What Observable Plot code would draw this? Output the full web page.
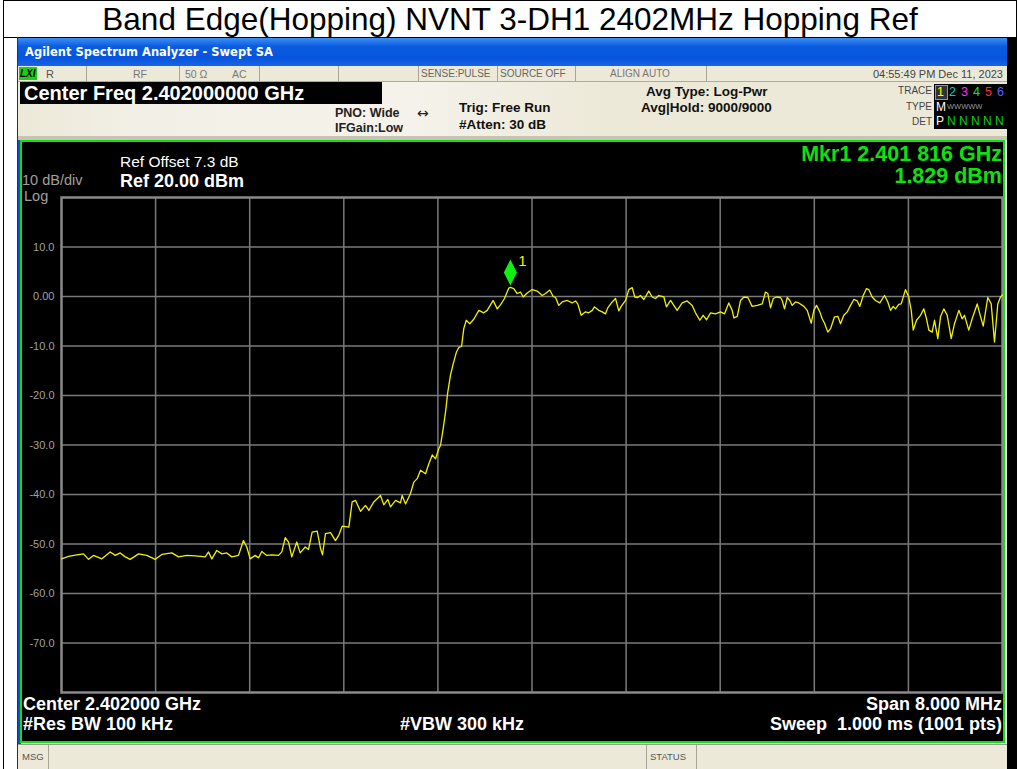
<!DOCTYPE html>
<html>
<head>
<meta charset="utf-8">
<script src="https://cdn.jsdelivr.net/npm/d3@7"></script>
<script src="https://cdn.jsdelivr.net/npm/@observablehq/plot@0.6"></script>
<style>
  html, body { margin: 0; padding: 0; background: #fff; }
  body { width: 1020px; height: 769px; position: relative; overflow: hidden; font-family: "Liberation Sans", Arial, sans-serif; }
</style>
</head>
<body>
<script>
// ---- data ----
const chartTitle = "Band Edge(Hopping) NVNT 3-DH1 2402MHz Hopping Ref";
const freqMHz = [
  2398.000,2398.060,2398.130,2398.187,2398.230,2398.272,2398.343,2398.414,2398.457,2398.499,
  2398.542,2398.584,2398.655,2398.725,2398.797,2398.853,2398.938,2398.995,2399.065,2399.137,
  2399.222,2399.250,2399.278,2399.320,2399.363,2399.405,2399.448,2399.505,2399.547,2399.575,
  2399.604,2399.647,2399.675,2399.703,2399.745,2399.788,2399.845,2399.873,2399.902,2399.930,
  2399.958,2400.000,2400.029,2400.072,2400.100,2400.131,2400.174,2400.202,2400.219,2400.244,
  2400.287,2400.329,2400.358,2400.386,2400.443,2400.471,2400.500,2400.542,2400.584,2400.613,
  2400.655,2400.712,2400.740,2400.774,2400.797,2400.840,2400.882,2400.896,2400.925,2400.967,
  2400.995,2401.024,2401.052,2401.095,2401.123,2401.152,2401.180,2401.208,2401.222,2401.245,
  2401.265,2401.284,2401.307,2401.330,2401.358,2401.378,2401.401,2401.420,2401.441,2401.471,
  2401.505,2401.548,2401.590,2401.619,2401.670,2401.704,2401.732,2401.766,2401.803,2401.816,
  2401.845,2401.874,2401.902,2401.925,2401.959,2402.002,2402.044,2402.087,2402.115,2402.151,
  2402.180,2402.200,2402.228,2402.257,2402.299,2402.342,2402.370,2402.389,2402.418,2402.455,
  2402.483,2402.512,2402.531,2402.568,2402.597,2402.625,2402.644,2402.682,2402.710,2402.738,
  2402.758,2402.795,2402.823,2402.852,2402.874,2402.900,2402.922,2402.951,2402.993,2403.022,
  2403.050,2403.078,2403.121,2403.143,2403.178,2403.206,2403.234,2403.277,2403.319,2403.362,
  2403.390,2403.427,2403.455,2403.484,2403.518,2403.560,2403.603,2403.637,2403.673,2403.702,
  2403.716,2403.745,2403.773,2403.801,2403.835,2403.872,2403.915,2403.957,2403.985,2404.005,
  2404.028,2404.051,2404.079,2404.113,2404.127,2404.147,2404.170,2404.192,2404.212,2404.240,
  2404.268,2404.311,2404.340,2404.374,2404.396,2404.419,2404.447,2404.467,2404.487,2404.515,
  2404.538,2404.572,2404.600,2404.623,2404.651,2404.680,2404.708,2404.736,2404.765,2404.787,
  2404.816,2404.844,2404.863,2404.892,2404.920,2404.957,2404.997,2405.025,2405.048,2405.071,
  2405.090,2405.118,2405.139,2405.175,2405.203,2405.224,2405.241,2405.269,2405.303,2405.331,
  2405.354,2405.374,2405.402,2405.422,2405.450,2405.473,2405.501,2405.530,2405.564,2405.592,
  2405.629,2405.657,2405.677,2405.713,2405.742,2405.785,2405.807,2405.836,2405.875,2405.904,
  2405.932,2405.960,2405.983,2406.000
];
const levelDbm = [
  -53.0,-52.5,-52.2,-52.0,-53.1,-52.3,-53.0,-51.6,-52.3,-51.8,
  -52.6,-53.1,-52.0,-52.3,-53.1,-52.1,-51.8,-52.6,-52.3,-52.4,
  -52.6,-51.6,-53.0,-51.3,-52.0,-51.8,-52.6,-52.3,-49.3,-50.6,
  -53.0,-52.3,-52.8,-51.5,-52.3,-52.2,-52.3,-51.6,-48.7,-49.6,
  -52.6,-49.6,-51.8,-50.6,-51.1,-47.6,-47.4,-50.9,-52.2,-47.9,
  -47.7,-49.3,-48.2,-46.4,-46.6,-41.5,-41.2,-43.4,-42.2,-43.2,
  -41.5,-40.2,-42.1,-41.0,-42.5,-41.2,-41.7,-40.2,-41.9,-39.8,
  -37.5,-36.8,-35.1,-35.8,-33.8,-32.0,-32.8,-30.7,-30.1,-26.7,
  -23.3,-19.3,-15.9,-13.6,-11.2,-10.3,-10.1,-6.5,-4.8,-5.5,
  -4.6,-2.8,-3.3,-2.8,-0.8,-2.5,-1.7,-0.4,1.7,1.829,
  1.6,0.6,0.9,-0.1,0.7,1.4,1.1,0.2,0.6,1.3,
  0.0,-0.2,-1.8,-1.1,-0.8,-1.3,-0.9,-1.5,-3.8,-3.1,
  -3.3,-2.8,-2.1,-2.8,-3.1,-3.5,-2.3,-1.1,-0.4,-2.9,
  -2.0,-0.8,1.4,1.8,-0.1,-0.2,0.2,-0.6,1.1,-0.1,
  -0.4,0.2,-0.1,-2.1,-0.8,-1.8,-2.8,-1.3,-0.9,-1.8,
  -3.3,-4.8,-3.8,-4.7,-3.3,-3.5,-3.1,-3.5,-1.3,-2.8,
  -4.3,-4.0,-0.8,-0.1,-0.2,-2.0,-1.8,-1.5,0.9,0.6,
  -2.3,-0.4,-0.1,-0.2,-0.8,-2.5,-0.2,-0.8,-1.8,-1.1,
  -1.3,-2.0,-2.8,-5.4,-2.8,-1.8,-3.1,-4.5,-5.4,-7.2,
  -6.5,-4.1,-4.0,-5.5,-3.8,-3.1,-1.8,-0.6,-0.9,-2.0,
  0.2,1.6,1.4,-0.1,-0.8,-1.3,0.2,-1.1,-2.8,-2.0,
  -2.5,-1.6,-1.5,1.4,-0.1,-2.8,-6.8,-4.8,-3.8,-2.5,
  -4.5,-6.8,-7.2,-4.8,-8.5,-4.1,-2.5,-3.8,-8.5,-5.5,
  -2.8,-4.5,-3.8,-6.8,-4.5,-1.5,-3.5,-6.0,-0.2,-1.5,
  -9.2,-1.5,-0.1,0.3
];
const xDomainMHz = [2398, 2406];
const yDomainDbm = [-80, 20];
const xGridMHz = [2398.8, 2399.6, 2400.4, 2401.2, 2402.0, 2402.8, 2403.6, 2404.4, 2405.2];
const yGridDbm = [10, 0, -10, -20, -30, -40, -50, -60, -70];
const yTickLabels = ["10.0", "0.00", "-10.0", "-20.0", "-30.0", "-40.0", "-50.0", "-60.0", "-70.0"];
const markerFreqMHz = [2401.816];
const markerLevelDbm = [1.829];
const markerNames = ["1"];

// ---- page furniture ----
function el(tag, css, text, parent) {
  const e = document.createElement(tag);
  e.style.cssText = css;
  if (text != null) e.textContent = text;
  (parent || document.body).appendChild(e);
  return e;
}
function txt(text, left, cy, size, opts = {}) {
  const lh = opts.lh || size;
  const e = el("div", `position:absolute;white-space:pre;line-height:${lh}px;height:${lh}px;font-size:${size}px;top:${cy - lh / 2}px;` +
    (opts.right != null ? `right:${1020 - opts.right}px;` : `left:${left}px;`) +
    `color:${opts.color || "#000"};font-weight:${opts.bold ? "bold" : "normal"};font-family:${opts.font || '"Liberation Sans", Arial, sans-serif'};`, text);
  return e;
}

// outer table
el("div", "position:absolute;left:3px;top:0;width:1014px;height:769px;border:1px solid #000;border-bottom:none;box-sizing:border-box;");
el("div", "position:absolute;left:3px;top:37px;width:1014px;height:1px;background:#000;");
el("div", `position:absolute;left:3px;top:0;width:1014px;height:37px;line-height:38px;text-align:center;font-size:31.5px;font-family:"Liberation Sans",Arial,sans-serif;color:#000;`, chartTitle);
el("div", "position:absolute;left:17px;top:37px;width:1px;height:732px;background:#333;");

// screenshot window
el("div", "position:absolute;left:1007px;top:38px;width:10px;height:731px;background:#000;");
el("div", "position:absolute;left:18px;top:38px;width:989px;height:28px;background:linear-gradient(#3d8ef5 0%,#0b5ce0 30%,#0654dc 70%,#1864e6 100%);");
txt("Agilent Spectrum Analyzer - Swept SA", 25, 53, 11.5, { bold: true, color: "#fff", font: '"DejaVu Sans", sans-serif' });
// status row
el("div", "position:absolute;left:18px;top:66px;width:989px;height:15px;background:#ece9d8;border-bottom:1px solid #b0aa98;");
[86, 179, 259, 338, 418, 497, 575, 706].forEach(x => el("div", `position:absolute;left:${x}px;top:66px;width:1px;height:15px;background:#a8a498;`));
el("div", "position:absolute;left:19px;top:67px;width:18px;height:13px;background:#18d018;");
txt("LXI", 20, 74, 10, { bold: true, color: "#000", font: '"Liberation Sans", sans-serif' }).style.fontStyle = "italic";
txt("R", 46, 74, 11, { color: "#555" });
txt("RF", 133, 74, 10.5, { color: "#777" });
txt("50 Ω", 185, 74, 10.5, { color: "#777" });
txt("AC", 232, 74, 10.5, { color: "#777" });
txt("SENSE:PULSE", 421, 74, 10, { color: "#666" });
txt("SOURCE OFF", 500, 74, 10, { color: "#666" });
txt("ALIGN AUTO", 610, 74, 10, { color: "#777" });
txt("04:55:49 PM Dec 11, 2023", 0, 74, 11, { color: "#444", right: 1003 });
// control area
el("div", "position:absolute;left:18px;top:82px;width:989px;height:56px;background:linear-gradient(90deg,#ece9d8 0%,#f2f0e6 12%,#f4f2ea 40%,#ece9d8 60%);");
el("div", "position:absolute;left:18px;top:136px;width:989px;height:4px;background:#c8c4b4;");
el("div", "position:absolute;left:20px;top:82px;width:362px;height:22px;background:#000;");
txt("Center Freq 2.402000000 GHz", 24, 93, 20, { bold: true, color: "#fff" });
txt("PNO: Wide", 335, 113, 12.5, { bold: true, color: "#222" });
txt("IFGain:Low", 335, 128, 12.5, { bold: true, color: "#222" });
txt("↔", 417, 113, 14, { color: "#222", font: '"DejaVu Sans", sans-serif' });
txt("Trig: Free Run", 459, 108, 13.5, { bold: true, color: "#111" });
txt("#Atten: 30 dB", 459, 125, 13.5, { bold: true, color: "#111" });
txt("Avg Type: Log-Pwr", 646, 92, 13.5, { bold: true, color: "#111" });
txt("Avg|Hold: 9000/9000", 641, 108, 13.5, { bold: true, color: "#111" });
txt("TRACE", 0, 91, 10, { color: "#444", right: 932 });
txt("TYPE", 0, 107, 10, { color: "#444", right: 932 });
txt("DET", 0, 122, 10, { color: "#444", right: 932 });
el("div", "position:absolute;left:934px;top:84px;width:73px;height:45px;background:#000;");
el("div", "position:absolute;left:935px;top:85px;width:11px;height:13px;border:1px solid #9a9a60;background:#333;");
const traceNums = ["1", "2", "3", "4", "5", "6"];
const traceCols = ["#ffff00", "#00d0d0", "#ff30ff", "#20e020", "#ff3030", "#6060ff"];
traceNums.forEach((n, i) => txt(n, 937 + i * 12, 92, 12.5, { color: traceCols[i] }));
txt("M", 936, 107, 12, { color: "#fff" });
txt("WWWWW", 947, 107, 7.5, { color: "#999" });
txt("P", 936, 121, 12, { color: "#fff" });
txt("N N N N N", 947, 121, 12, { color: "#10d010" });

// black screen with green border
el("div", "position:absolute;left:18px;top:140px;width:3px;height:605px;background:#1848d0;");
el("div", "position:absolute;left:20px;top:140px;width:985px;height:603px;background:#000;border:2px solid #10e010;box-sizing:border-box;");
// message bar
el("div", "position:absolute;left:18px;top:744px;width:989px;height:25px;background:#ece9d8;border-top:1px solid #999;");
[48, 646, 696].forEach(x => el("div", `position:absolute;left:${x}px;top:745px;width:1px;height:24px;background:#a8a498;`));
txt("MSG", 22, 757, 9.5, { color: "#555" });
txt("STATUS", 650, 757, 9.5, { color: "#555" });

// ---- the chart ----
const trace = freqMHz.map((f, i) => ({ f, p: levelDbm[i] }));
const marker = markerFreqMHz.map((f, i) => ({ f, p: markerLevelDbm[i], name: markerNames[i] }));
const labelOf = new Map(yGridDbm.map((v, i) => [v, yTickLabels[i]]));
const tallDiamond = {
  draw(ctx) {
    const w = 6.5, h = 13;
    ctx.moveTo(0, -h); ctx.lineTo(w, 0); ctx.lineTo(0, h); ctx.lineTo(-w, 0); ctx.closePath();
  }
};
const chart = Plot.plot({
  width: 981, height: 596,
  marginLeft: 39, marginRight: 1, marginTop: 54, marginBottom: 47,
  style: { background: "black", color: "#a0a0a0", fontFamily: '"Liberation Sans", Arial, sans-serif', fontSize: "11px", overflow: "visible" },
  x: { domain: xDomainMHz, axis: null },
  y: { domain: yDomainDbm, axis: null },
  marks: [
    Plot.ruleX(xGridMHz, { stroke: "#7a7a7a", strokeWidth: 1.5 }),
    Plot.ruleY(yGridDbm, { stroke: "#7a7a7a", strokeWidth: 1.5 }),
    Plot.frame({ stroke: "#8a8a8a", strokeWidth: 2.5 }),
    Plot.axisY(yGridDbm, { tickFormat: d => labelOf.get(d), tickSize: 0, tickPadding: 7, label: null, fill: "#a0a0a0", fontSize: 11 }),
    Plot.line(trace, { x: "f", y: "p", stroke: "#f2f200", strokeWidth: 1.3, curve: "linear" }),
    Plot.dot(marker, { x: "f", y: "p", symbol: tallDiamond, fill: "#10f010", stroke: "none", dy: -15 }),
    Plot.text(marker, { x: "f", y: "p", text: "name", fill: "#f2f200", dx: 12, dy: -26, fontSize: 15 })
  ]
});
const holder = el("div", "position:absolute;left:22px;top:143px;width:981px;height:596px;");
holder.appendChild(chart);

// texts on the screen
txt("Ref Offset 7.3 dB", 120, 162, 15.5, { color: "#fff" });
txt("Ref 20.00 dBm", 120, 181, 18, { bold: true, color: "#fff", lh: 17 });
txt("10 dB/div", 22, 180, 14.5, { color: "#a0a0a0", lh: 12 });
txt("Log", 24, 196, 14.5, { color: "#a0a0a0", lh: 12 });
txt("Mkr1 2.401 816 GHz", 0, 154, 21.5, { bold: true, color: "#10e010", right: 1002, lh: 20 });
txt("1.829 dBm", 0, 176, 21.5, { bold: true, color: "#10e010", right: 1002, lh: 20 });
txt("Center 2.402000 GHz", 23, 704, 18, { bold: true, color: "#fff" });
txt("#Res BW 100 kHz", 23, 724, 18, { bold: true, color: "#fff" });
txt("#VBW 300 kHz", 400, 724, 18, { bold: true, color: "#fff" });
txt("Span 8.000 MHz", 0, 704, 18, { bold: true, color: "#fff", right: 1002 });
txt("Sweep  1.000 ms (1001 pts)", 0, 724, 18, { bold: true, color: "#fff", right: 1002 });
</script>
</body>
</html>
